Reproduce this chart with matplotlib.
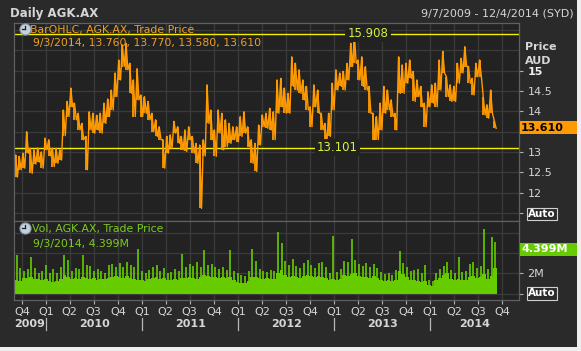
import numpy as np
import pandas as pd
import matplotlib
matplotlib.use("Agg")
import matplotlib.pyplot as plt
import matplotlib.transforms as mtransforms
from matplotlib.patches import Rectangle

# fortnightly samples, 7 Sep 2009 .. 1 Sep 2014
dates = pd.date_range("2009-09-07", periods=131, freq="14D")

price_hi = [12.92, 12.89, 12.97, 13.50, 13.09, 13.05, 13.10, 13.00, 13.34, 13.30,
            13.09, 13.09, 13.05, 14.03, 14.24, 14.57, 14.20, 13.95, 13.70, 13.38,
            13.99, 13.95, 13.90, 13.95, 14.20, 14.30, 14.52, 14.94, 15.26, 15.63,
            15.67, 15.18, 14.77, 15.05, 14.40, 14.36, 14.24, 13.95, 13.79, 13.62,
            13.30, 13.38, 13.42, 13.75, 13.62, 13.38, 13.54, 13.62, 13.38, 13.21,
            13.17, 13.30, 14.65, 14.03, 13.54, 14.03, 13.95, 13.79, 13.70, 13.62,
            13.62, 13.87, 13.99, 13.62, 13.30, 13.21, 13.66, 13.91, 13.95, 14.07,
            13.99, 14.77, 14.81, 14.57, 14.44, 15.34, 15.18, 15.02, 14.77, 14.61,
            14.11, 14.65, 14.52, 13.95, 13.70, 13.95, 14.69, 15.02, 14.94, 14.98,
            15.18, 15.67, 15.908, 15.26, 15.34, 15.10, 14.61, 13.95, 13.87, 14.20,
            14.61, 14.52, 14.28, 13.95, 15.34, 15.14, 15.18, 15.26, 14.98, 14.77,
            14.61, 14.20, 14.48, 14.65, 14.69, 15.26, 15.47, 14.85, 14.65, 14.61,
            15.18, 15.30, 15.59, 15.10, 14.81, 15.18, 15.26, 14.36, 14.16, 14.52,
            13.77]
price_lo = [12.38, 12.56, 12.60, 12.97, 12.47, 12.70, 12.75, 12.60, 13.05, 12.90,
            12.64, 12.72, 12.80, 13.40, 13.87, 14.11, 13.79, 13.54, 13.30, 12.56,
            13.54, 13.46, 13.54, 13.46, 13.70, 13.87, 14.03, 14.36, 14.77, 15.10,
            15.02, 14.44, 13.87, 14.28, 13.87, 13.95, 13.79, 13.50, 13.38, 13.30,
            12.60, 12.97, 13.09, 13.46, 13.21, 13.05, 13.01, 13.30, 12.97, 12.72,
            11.61, 12.90, 13.70, 13.30, 12.89, 13.46, 13.05, 13.13, 13.21, 13.30,
            13.25, 13.38, 13.46, 13.13, 12.72, 12.52, 13.17, 13.62, 13.58, 13.54,
            13.30, 13.95, 14.11, 13.95, 13.95, 14.61, 14.52, 14.44, 14.28, 14.03,
            13.62, 14.11, 13.95, 13.54, 13.17, 13.38, 14.03, 14.52, 14.61, 14.52,
            14.77, 15.10, 15.18, 14.77, 14.61, 14.52, 13.95, 13.30, 13.30, 13.54,
            13.95, 14.03, 13.87, 13.54, 14.44, 14.44, 14.69, 14.81, 14.24, 14.36,
            14.11, 13.62, 14.11, 14.20, 14.11, 14.52, 14.94, 14.36, 14.24, 14.24,
            14.69, 14.94, 15.10, 14.69, 14.40, 14.85, 14.85, 13.91, 13.83, 13.95,
            13.58]

# volume in millions: typical level and biggest day of each fortnight
vol_base = [1.3, 1.2, 1.5, 1.5, 1.6, 1.4, 1.4, 1.3, 1.4, 1.2,
            1.1, 1.2, 1.4, 1.8, 1.6, 1.4, 1.5, 1.4, 1.6, 1.5,
            1.4, 1.5, 1.3, 1.4, 1.4, 1.5, 1.6, 1.7, 1.6, 1.5,
            1.7, 1.5, 1.4, 1.3, 1.3, 1.2, 1.4, 1.5, 1.6, 1.4,
            1.5, 1.3, 1.3, 1.4, 1.3, 1.5, 1.5, 1.6, 1.5, 1.4,
            1.6, 1.8, 1.7, 1.6, 1.6, 1.5, 1.6, 1.5, 1.6, 1.3,
            1.1, 1.0, 1.0, 1.2, 1.6, 1.6, 1.5, 1.4, 1.5, 1.4,
            1.4, 2.0, 2.3, 1.8, 1.6, 1.7, 1.6, 1.5, 1.7, 1.8,
            1.7, 1.6, 1.7, 1.6, 1.5, 1.3, 1.4, 1.3, 1.4, 1.8,
            1.7, 1.9, 2.0, 1.7, 1.6, 1.6, 1.5, 1.7, 1.5, 1.3,
            1.2, 1.3, 1.2, 1.3, 2.2, 1.9, 1.6, 1.3, 1.3, 1.2,
            1.1, 1.2, 0.8, 0.7, 1.3, 1.5, 1.8, 2.0, 1.4, 1.3,
            1.4, 1.3, 1.3, 1.6, 1.7, 1.5, 1.6, 1.9, 1.4, 1.7,
            2.5]
vol_peak = [3.8, 2.5, 2.2, 2.4, 3.6, 2.5, 2.0, 2.2, 2.8, 2.0,
            2.4, 2.0, 2.6, 3.8, 3.3, 2.2, 2.5, 2.4, 3.8, 2.8,
            2.7, 2.2, 2.4, 2.2, 2.0, 2.8, 2.9, 2.6, 3.0, 2.6,
            3.1, 2.8, 2.6, 4.4, 2.2, 2.0, 2.3, 2.6, 2.8, 2.2,
            2.5, 2.0, 2.1, 2.4, 2.2, 3.9, 2.6, 2.9, 2.7, 3.1,
            2.6, 4.3, 2.8, 2.9, 2.6, 2.4, 2.6, 2.3, 4.3, 2.2,
            2.0, 1.8, 1.7, 2.2, 4.4, 3.2, 2.4, 2.2, 2.1, 2.3,
            2.2, 6.1, 5.0, 3.2, 2.8, 3.4, 2.7, 2.5, 3.0, 3.3,
            2.8, 2.5, 3.0, 3.1, 2.6, 2.0, 5.7, 2.1, 2.4, 3.2,
            3.1, 5.4, 3.3, 2.9, 2.7, 3.0, 2.6, 2.9, 2.5, 2.1,
            1.9, 2.0, 1.8, 2.3, 4.2, 3.0, 2.6, 2.2, 2.3, 2.4,
            2.0, 2.8, 1.3, 1.2, 2.0, 2.4, 2.7, 3.1, 2.3, 2.0,
            3.6, 2.1, 2.2, 2.9, 3.1, 2.5, 2.7, 6.4, 2.4, 5.6,
            5.1]

price_max, price_min = 15.908, 13.101
last_ohlc = "9/3/2014, 13.760, 13.770, 13.580, 13.610"
last_close = "13.610"
last_vol = "4.399M"
price_ticks = [12, 12.5, 13, 13.5, 14, 14.5, 15]
quarters = pd.date_range("2009-10-01", "2014-10-01", freq="QS")
years = [2009, 2010, 2011, 2012, 2013, 2014]

BG = "#2a2a2a"
PANE = "#222222"
GRID = "#3b3b3b"
EDGE = "#606060"
TXT = "#d6d6d6"
ORANGE = "#ff9a00"
GREEN = "#66cc00"
YELLOW = "#f2f200"

W, H = 581, 351


def px(x, y):
    return x / W, 1 - y / H


fig = plt.figure(figsize=(W / 100, H / 100), dpi=100, facecolor="#eeeeee")
fig.add_artist(Rectangle((0, 4 / H), 577 / W, 347 / H, transform=fig.transFigure,
                         facecolor=BG, edgecolor="none", zorder=-10))

ax = fig.add_axes([14 / W, 1 - 221 / H, 505 / W, 198 / H], facecolor=PANE)
axv = fig.add_axes([14 / W, 1 - 300 / H, 505 / W, 79 / H], facecolor=PANE, sharex=ax)

ax.set_xlim(pd.Timestamp("2009-09-01"), pd.Timestamp("2014-12-04"))
ax.set_ylim(11.30, 16.17)
axv.set_ylim(-0.64, 7.18)

# grid
for v in np.arange(11.5, 16.01, 0.5):
    ax.axhline(v, color=GRID, lw=0.9, zorder=0)
for v in [0, 2, 4, 6]:
    axv.axhline(v, color=GRID, lw=0.9, zorder=0)
for q in quarters:
    ax.axvline(q, color=GRID, lw=0.9, zorder=0)
    axv.axvline(q, color=GRID, lw=0.9, zorder=0)

# price bars as a jagged high/low trace
half = pd.Timedelta(days=7)
zig_t = np.ravel(np.column_stack([dates.values, (dates + half).values]))
zig_p = np.ravel(np.column_stack([price_hi, price_lo]))
ax.plot(zig_t, zig_p, color=ORANGE, lw=1.0, zorder=3)
ax.vlines(dates, price_lo, price_hi, color=ORANGE, lw=1.3, zorder=3)

# max / min lines
ax.axhline(price_max, color=YELLOW, lw=1, zorder=2)
ax.axhline(price_min, color=YELLOW, lw=1, zorder=2)
ytr = ax.get_yaxis_transform()
ax.text(0.701, price_max, f"{price_max:.3f}", transform=ytr, ha="center", va="center",
        color="#d8f040", fontsize=8.5, zorder=4,
        bbox=dict(facecolor=PANE, edgecolor="none", pad=1.5))
ax.text(0.640, price_min, f"{price_min:.3f}", transform=ytr, ha="center", va="center",
        color="#d8f040", fontsize=8.5, zorder=4,
        bbox=dict(facecolor=PANE, edgecolor="none", pad=1.5))

# volume
axv.bar(dates + half / 2, vol_base, width=14, color=GREEN, align="center", zorder=2)
axv.vlines(dates + pd.Timedelta(days=4), 0, vol_peak, color=GREEN, lw=1.2, zorder=2)

# legends
ax.text((30 - 14) / 505, (221 - 30) / 198, "BarOHLC, AGK.AX, Trade Price", transform=ax.transAxes,
        color="#f0a020", fontsize=7.8, va="center", ha="left", zorder=5)
ax.text((33 - 14) / 505, (221 - 43) / 198, last_ohlc, transform=ax.transAxes,
        color="#f0a020", fontsize=7.8, va="center", ha="left", zorder=5)
axv.text((32 - 14) / 505, (300 - 229) / 79, "Vol, AGK.AX, Trade Price", transform=axv.transAxes,
         color="#7ccc20", fontsize=7.8, va="center", ha="left", zorder=5)
axv.text((33 - 14) / 505, (300 - 243.5) / 79, "9/3/2014, " + last_vol, transform=axv.transAxes,
         color="#7ccc20", fontsize=7.8, va="center", ha="left", zorder=5)

# clock icons
for a, yy, top in [(ax, 29, 221), (axv, 228, 300)]:
    h = 198 if a is ax else 79
    cx, cy = (25 - 14) / 505, (top - yy) / h
    a.plot([cx], [cy], marker="o", ms=8, mfc="#c4d0dc", mec="#8898a8", mew=0.8,
           transform=a.transAxes, clip_on=False, zorder=6)
    a.plot([cx, cx], [cy, cy + 3.2 / h], color="#202020", lw=0.9,
           transform=a.transAxes, clip_on=False, zorder=7)
    a.plot([cx, cx - 3.2 / 505], [cy, cy], color="#202020", lw=0.9,
           transform=a.transAxes, clip_on=False, zorder=7)

# spines and ticks
for a in (ax, axv):
    for s in a.spines.values():
        s.set_color(EDGE)
        s.set_linewidth(0.9)
    a.yaxis.tick_right()
    a.tick_params(axis="y", colors="#b0b0b0", labelcolor=TXT, labelsize=8,
                  length=3, pad=3, direction="out")

# 13.5 sits under the last-price box, so its label stays empty
ax.set_yticks([11.5] + price_ticks)
ax.set_yticklabels([""] + ["" if t == 13.5 else f"{t:g}" for t in price_ticks])
for lab in ax.get_yticklabels():
    if lab.get_text() == "15":
        lab.set_fontweight("bold")
        lab.set_color("#f0f0f0")
ax.tick_params(axis="x", length=0, labelbottom=False)

axv.set_yticks([0, 2, 4])
axv.set_yticklabels(["", "2M", ""])
axv.set_xticks(quarters)
axv.set_xticklabels([f"Q{(q.month - 1) // 3 + 1}" for q in quarters])
axv.tick_params(axis="x", colors="#b0b0b0", labelcolor=TXT, labelsize=8,
                length=3, pad=2, direction="out")

# year labels and separators
xtr = mtransforms.blended_transform_factory(axv.transData, axv.transAxes)
x0, x1 = ax.get_xlim()
for yr in years:
    start = max(matplotlib.dates.date2num(pd.Timestamp(f"{yr}-01-01")), x0)
    end = min(matplotlib.dates.date2num(pd.Timestamp(f"{yr + 1}-01-01")), x1)
    axv.text((start + end) / 2, -0.305, str(yr), transform=xtr, ha="center", va="center",
             color=TXT, fontsize=8, fontweight="bold")
    if yr > 2009:
        axv.plot([start, start], [-0.225, -0.385], transform=xtr, color="#b8b8b8",
                 lw=0.9, clip_on=False)

# right-hand labels
fig.text(*px(525, 46.5), "Price", color=TXT, fontsize=8, fontweight="bold", va="center")
fig.text(*px(525, 61), "AUD", color=TXT, fontsize=8, fontweight="bold", va="center")

fig.add_artist(Rectangle(px(520, 134), 57 / W, 13 / H, transform=fig.transFigure,
                         facecolor=ORANGE, edgecolor="none", zorder=8))
fig.text(*px(521, 127.5), last_close, color="black", fontsize=8, fontweight="bold",
         va="center", zorder=9)
fig.add_artist(Rectangle(px(520, 256), 57 / W, 13 / H, transform=fig.transFigure,
                         facecolor=GREEN, edgecolor="none", zorder=8))
fig.text(*px(521, 249.5), last_vol, color="white", fontsize=8, fontweight="bold",
         va="center", zorder=9)

for yy in (214, 293.5):
    fig.text(*px(528, yy), "Auto", color="white", fontsize=7.5, fontweight="bold",
             va="center", zorder=9,
             bbox=dict(boxstyle="square,pad=0.12", facecolor=BG, edgecolor="#d0d0d0", lw=0.8))

# header
fig.text(*px(10, 14), "Daily AGK.AX", color=TXT, fontsize=8.5, fontweight="bold", va="center")
fig.text(*px(574, 14), "9/7/2009 - 12/4/2014 (SYD)", color=TXT, fontsize=8,
         va="center", ha="right")

fig.savefig("out.png", dpi=100, facecolor=fig.get_facecolor())
